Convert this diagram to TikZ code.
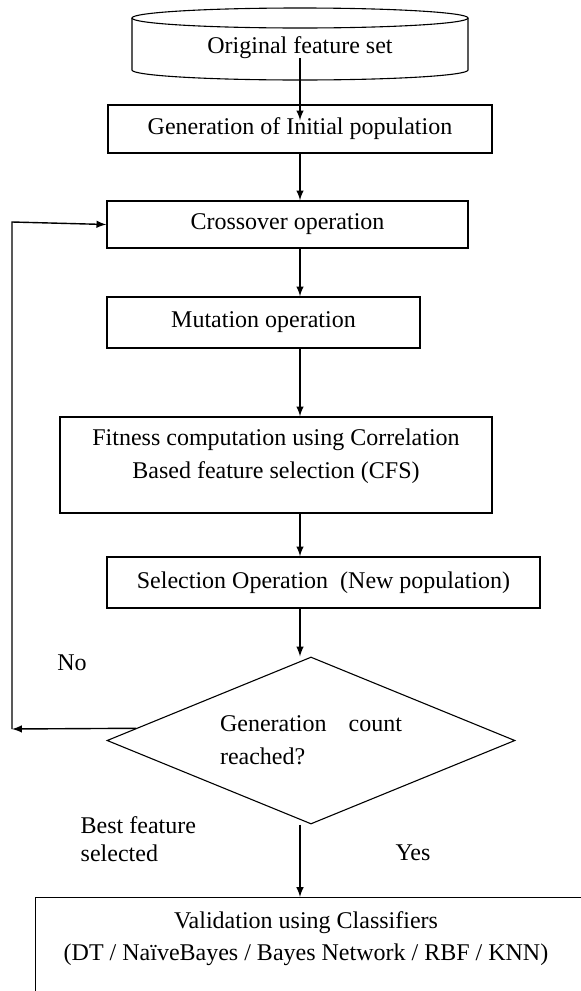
\documentclass[tikz,border=0pt]{standalone}
\usepackage{fontspec}
\setmainfont{Liberation Serif}
\newfontfamily\flowfont{Liberation Serif}
\usetikzlibrary{shapes.geometric}

\begin{document}
\begin{tikzpicture}[x=0.5pt,y=-0.5pt,>=latex,line width=0.7pt,
        box/.style={draw, inner sep=0pt},
        every node/.style={font=\flowfont\fontsize{12}{16.5}\selectfont}]
        \useasboundingbox (0,0) rectangle (581,991);
        \clip (0,0) rectangle (581,991);
        \coordinate (axis) at (300,0);

        % data store on top
        \draw[line width=0.55pt] (300,18) ellipse [x radius=168, y radius=10];
        \draw[line width=0.55pt] (132,18) -- (132,70) arc [start angle=180, end angle=0, x radius=168, y radius=10] -- (468,18);
        \node (orig) at (300,48) {Original feature set};

        \node[box, minimum width=192pt, minimum height=24pt] (gen) at (300,129) {Generation of Initial population};
        \node[box, minimum width=180.5pt, minimum height=23.5pt] (cross) at (287.5,224.5) {Crossover operation};
        \node[box, minimum width=156.5pt, minimum height=25.5pt] (mut) at (263.5,322.5) {Mutation operation};
        \node[box, minimum width=216pt, minimum height=48pt] (fit) at (276,465) {};
        \node[align=center] (fittext) at (276,456.5) {Fitness computation using Correlation\\Based feature selection (CFS)};
        \node[box, minimum width=216.5pt, minimum height=25.5pt] (sel) at (323.5,582.5) {Selection Operation\ \ (New population)};
        \node[diamond, draw, line width=0.55pt, aspect=2.44, minimum width=204pt, minimum height=83.5pt, inner sep=0pt, align=left] (check) at (311,740.5) {Generation\hspace{11pt}count\\reached?};
        \node[box, anchor=north west, minimum width=320pt, minimum height=60pt] (valid) at (35,897) {};
        \node[align=center, font=\flowfont\fontsize{12}{16}\selectfont] (validtext) at (306,939) {Validation using Classifiers\\(DT / NaïveBayes / Bayes Network / RBF / KNN)};

        % labels
        \node (no) at (72,663) {No};
        \node[anchor=west, align=left, inner sep=0pt, font=\flowfont\fontsize{12}{14}\selectfont] (best) at (80,839) {Best feature\\selected};
        \node (yes) at (413,853) {Yes};

        \draw[->] ([yshift=4pt]orig.south) -- ([yshift=-8pt]gen.north);
        \draw[->] (gen.south -| axis) -- (cross.north -| axis);
        \draw[->] (cross.south -| axis) -- (mut.north -| axis);
        \draw[->] (mut.south -| axis) -- (fit.north -| axis);
        \draw[->] (fit.south -| axis) -- (sel.north -| axis);
        \draw[->] (sel.south -| axis) -- (check.north -| axis);
        \draw[->] (check.south -| axis) -- (valid.north -| axis);

        % back to crossover
        \coordinate (noend) at (12,729);
        \coordinate (upend) at (12,222);
        \draw[->] (check.176) -- (noend);
        \draw[->] (noend) -- (upend) -- (cross.west);
    \end{tikzpicture}
\end{document}
